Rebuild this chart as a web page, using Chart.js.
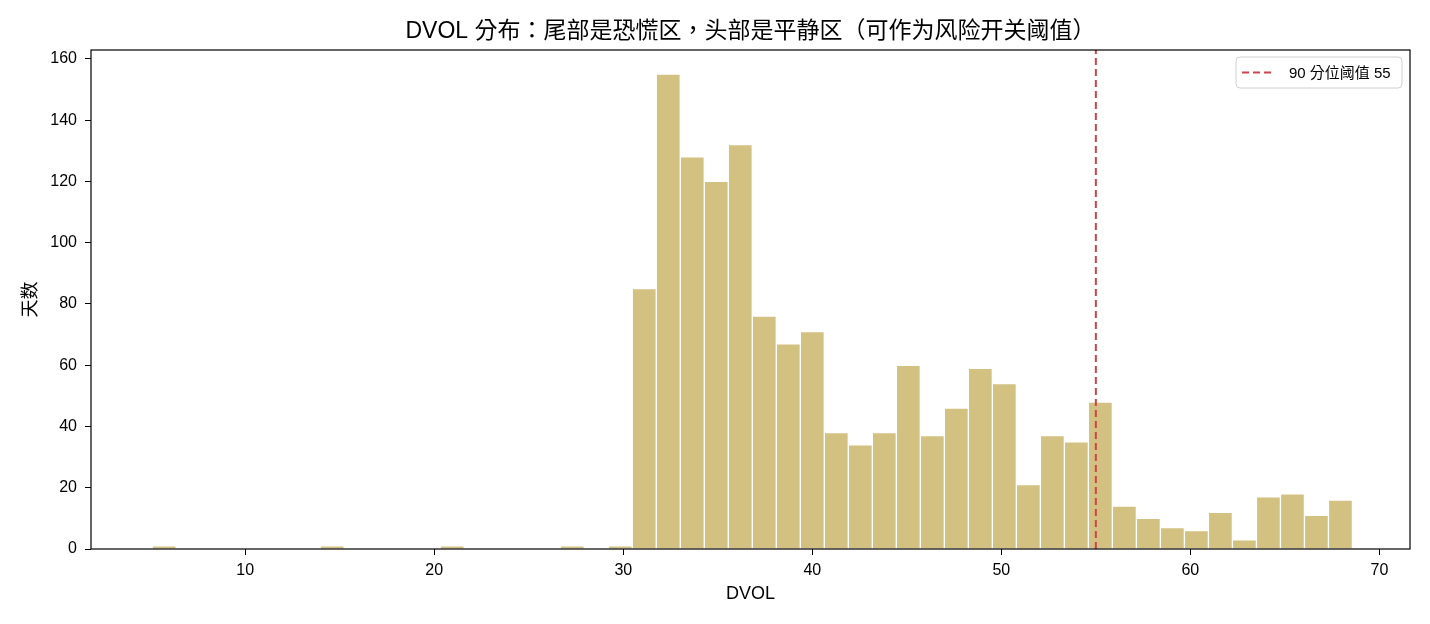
<!DOCTYPE html>
<html>
<head>
<meta charset="utf-8">
<script src="https://cdn.jsdelivr.net/npm/chart.js@4.4.1/dist/chart.umd.min.js"></script>
<style>
    body { margin: 0; background: #fff; }
    #wrap { width: 1430px; height: 624px; }
</style>
</head>
<body>
<div id="wrap"><canvas id="chartDVOL" width="1430" height="624"></canvas></div>
<script>
// histogram bins (DVOL) and number of days in each bin
const binCenters = [
    5.71, 6.98, 8.25, 9.52, 10.79, 12.06, 13.33, 14.60, 15.87, 17.14,
    18.41, 19.68, 20.95, 22.22, 23.49, 24.76, 26.03, 27.30, 28.57, 29.84,
    31.11, 32.38, 33.65, 34.92, 36.19, 37.46, 38.73, 40.00, 41.27, 42.54,
    43.81, 45.08, 46.35, 47.62, 48.89, 50.16, 51.43, 52.70, 53.97, 55.24,
    56.51, 57.78, 59.05, 60.32, 61.59, 62.86, 64.13, 65.40, 66.67, 67.94
];
const dayCounts = [
    1, 0, 0, 0, 0, 0, 0, 1, 0, 0,
    0, 0, 1, 0, 0, 0, 0, 1, 0, 1,
    85, 155, 128, 120, 132, 76, 67, 71, 38, 34,
    38, 60, 37, 46, 59, 54, 21, 37, 35, 48,
    14, 10, 7, 6, 12, 3, 17, 18, 11, 16
];
const xTicks = [10, 20, 30, 40, 50, 60, 70];
const yTicks = [0, 20, 40, 60, 80, 100, 120, 140, 160];
const thresholdValue = 55;
const thresholdLabel = '90 分位阈值 55';
const chartTitle = 'DVOL 分布：尾部是恐慌区，头部是平静区（可作为风险开关阈值）';

const FONT = "'Liberation Sans', 'Noto Sans CJK TC', 'Noto Sans CJK SC', sans-serif";
const X_MIN = 1.84, X_MAX = 71.62, Y_MAX = 162.9;

// title over the plot, frame around it, legend box in the top right corner
const framePlugin = {
    id: 'frame',
    afterDatasetsDraw(chart) {
        const ctx = chart.ctx;
        const a = chart.chartArea;
        ctx.save();
        ctx.strokeStyle = '#000';
        ctx.lineWidth = 1.2;
        ctx.strokeRect(a.left, a.top, a.right - a.left, a.bottom - a.top);
        ctx.restore();
    },
    afterDraw(chart) {
        const ctx = chart.ctx;
        const a = chart.chartArea;
        const ds = chart.data.datasets[0];

        ctx.save();
        ctx.fillStyle = '#000';
        ctx.font = '23px ' + FONT;
        ctx.textAlign = 'center';
        ctx.textBaseline = 'middle';
        ctx.fillText(chartTitle, (a.left + a.right) / 2, 32);
        ctx.restore();

        const w = 166, h = 31;
        const x = a.right - 8 - w, y = a.top + 7;
        ctx.save();
        ctx.beginPath();
        ctx.roundRect(x, y, w, h, 4);
        ctx.fillStyle = 'rgba(255,255,255,0.8)';
        ctx.fill();
        ctx.strokeStyle = '#d0d0d0';
        ctx.lineWidth = 1;
        ctx.stroke();
        ctx.beginPath();
        ctx.setLineDash(ds.borderDash);
        ctx.strokeStyle = ds.borderColor;
        ctx.lineWidth = ds.borderWidth;
        ctx.moveTo(x + 6, y + h / 2);
        ctx.lineTo(x + 37, y + h / 2);
        ctx.stroke();
        ctx.setLineDash([]);
        ctx.fillStyle = '#000';
        ctx.font = '15px ' + FONT;
        ctx.textBaseline = 'middle';
        ctx.fillText(ds.label, x + 53, y + h / 2 + 1);
        ctx.restore();
    }
};

const ctx = document.getElementById('chartDVOL').getContext('2d');
const chart = new Chart(ctx, {
    type: 'bar',
    data: {
        datasets: [{
            type: 'line',
            label: thresholdLabel,
            data: [{ x: thresholdValue, y: 0 }, { x: thresholdValue, y: Y_MAX }],
            borderColor: '#cf4349',
            borderWidth: 2,
            borderDash: [7, 4],
            pointRadius: 0,
            order: 0
        }, {
            type: 'bar',
            label: 'DVOL',
            data: binCenters.map((c, i) => ({ x: c, y: dayCounts[i] })),
            backgroundColor: '#d3c182',
            borderColor: '#ffffff',
            borderWidth: 1,
            barPercentage: 1,
            categoryPercentage: 1,
            order: 1
        }]
    },
    options: {
        responsive: false,
        animation: false,
        devicePixelRatio: 1,
        layout: { padding: { top: 50, right: 20, bottom: 0, left: 0 } },
        plugins: {
            legend: { display: false },
            tooltip: { enabled: false },
            title: { display: false }
        },
        scales: {
            x: {
                type: 'linear',
                min: X_MIN,
                max: X_MAX,
                offset: false,
                afterFit: (s) => { s.height = 75; },
                afterBuildTicks: (s) => { s.ticks = xTicks.map(v => ({ value: v })); },
                grid: { display: true, drawOnChartArea: false, drawTicks: true, tickLength: 6, color: '#000', offset: false },
                border: { display: false },
                ticks: { color: '#000', font: { family: FONT, size: 16 }, padding: 6, maxRotation: 0 },
                title: { display: true, text: 'DVOL', color: '#000', font: { family: FONT, size: 18 }, padding: { top: 19, bottom: 19 } }
            },
            y: {
                min: 0,
                max: Y_MAX,
                afterFit: (s) => { s.width = 91; },
                afterBuildTicks: (s) => { s.ticks = yTicks.map(v => ({ value: v })); },
                grid: { display: true, drawOnChartArea: false, drawTicks: true, tickLength: 6, color: '#000' },
                border: { display: false },
                ticks: { color: '#000', font: { family: FONT, size: 16 }, padding: 8 },
                title: { display: true, text: '天数', color: '#000', font: { family: FONT, size: 18 }, padding: { top: 20, bottom: 20 } }
            }
        }
    },
    plugins: [framePlugin]
});
</script>
</body>
</html>
